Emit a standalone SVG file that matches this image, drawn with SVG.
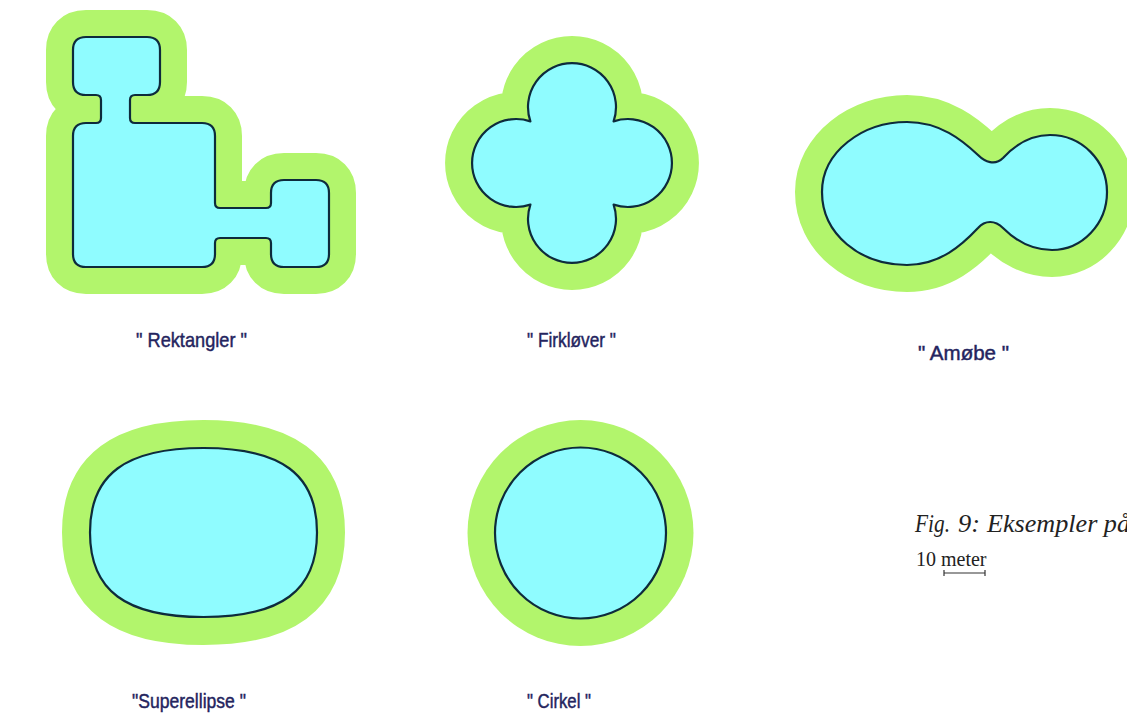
<svg xmlns="http://www.w3.org/2000/svg" width="1127" height="716" viewBox="0 0 1127 716">
<style>
.halo{fill:#b2f56c;stroke:#b2f56c;stroke-width:54;stroke-linejoin:round}
.pool{fill:#8ffcff;stroke:#0d2b3c;stroke-width:2.2;stroke-linejoin:round}
.lbl{font-family:"Liberation Sans",Arial,sans-serif;font-size:21px;fill:#24245e;stroke:#24245e;stroke-width:0.45}
.cap{font-family:"Liberation Serif","Times New Roman",serif;font-size:23px;fill:#222}
</style>
<defs>
<path id="rekt" d="M86,37 H147 Q160,37 160,50 V82 Q160,95 147,95 H135 Q130,95 130,100 V118 Q130,123 135,123 H202 Q215,123 215,136 V203 Q215,208 220,208 H266 Q271,208 271,203 V193 Q271,180 284,180 H316 Q329,180 329,193 V254 Q329,267 316,267 H284 Q271,267 271,254 V243 Q271,238 266,238 H220 Q215,238 215,243 V254 Q215,267 202,267 H86 Q73,267 73,254 V136 Q73,123 86,123 H96 Q101,123 101,118 V100 Q101,95 96,95 H86 Q73,95 73,82 V50 Q73,37 86,37 Z"/>
<path id="klover" d="M530.4,121.4 A44,44 0 1 1 613.6,121.4 A44,44 0 1 1 613.6,204.6 A44,44 0 1 1 530.4,204.6 A44,44 0 1 1 530.4,121.4 Z"/>
<path id="amobe" d="M822,192 C822,152 862,122 907,122 C940,122 962,140 978,155 C985,162 995,166 1003,158 C1015,145 1030,135 1050,135 C1082,135 1107,161 1107,192 C1107,224 1082,250 1052,250 C1032,250 1015,240 1003,228 C995,220 985,220 978,228 C962,245 940,265 907,265 C860,265 822,234 822,192 Z"/>
<path id="super" d="M317,532.5 C317,590.5 281.5,617 203.5,617 C125.5,617 90,590.5 90,532.5 C90,474.5 125.5,448 203.5,448 C281.5,448 317,474.5 317,532.5 Z"/>
</defs>
<rect width="1127" height="716" fill="#ffffff"/>
<g id="rektangler">
<use href="#rekt" class="halo"/>
<use href="#rekt" class="pool"/>
<text class="lbl" x="136" y="347" textLength="111" lengthAdjust="spacingAndGlyphs">" Rektangler "</text>
</g>
<g id="firklover">
<use href="#klover" class="halo"/>
<use href="#klover" class="pool"/>
<text class="lbl" x="527" y="347" textLength="89" lengthAdjust="spacingAndGlyphs">" Firkløver "</text>
</g>
<g id="amoebe">
<use href="#amobe" class="halo"/>
<use href="#amobe" class="pool"/>
<text class="lbl" x="918" y="360" textLength="91" lengthAdjust="spacingAndGlyphs">" Amøbe "</text>
</g>
<g id="superellipse">
<use href="#super" class="halo" style="stroke-width:56"/>
<use href="#super" class="pool"/>
<text class="lbl" x="132" y="708" textLength="114" lengthAdjust="spacingAndGlyphs">"Superellipse "</text>
</g>
<g id="cirkel">
<circle cx="580.5" cy="533" r="113" fill="#b2f56c"/>
<circle cx="580.5" cy="533" r="85.5" class="pool"/>
<text class="lbl" x="527" y="708" textLength="64" lengthAdjust="spacingAndGlyphs">" Cirkel "</text>
</g>
<g id="caption">
<text class="cap" y="532" font-style="italic" style="font-size:25px"><tspan x="915" textLength="35" lengthAdjust="spacingAndGlyphs">Fig.</tspan><tspan x="958" textLength="22" lengthAdjust="spacingAndGlyphs">9:</tspan><tspan x="987" textLength="143" lengthAdjust="spacingAndGlyphs">Eksempler på</tspan></text>
<text class="cap" x="916" y="566" style="font-size:20px">10 meter</text>
<g stroke="#333" stroke-width="1.2" fill="none">
<line x1="944" y1="573" x2="985" y2="573"/>
<line x1="944" y1="570" x2="944" y2="576"/>
<line x1="985" y1="570" x2="985" y2="576"/>
</g>
</g>
<g id="connectors"/>
</svg>
